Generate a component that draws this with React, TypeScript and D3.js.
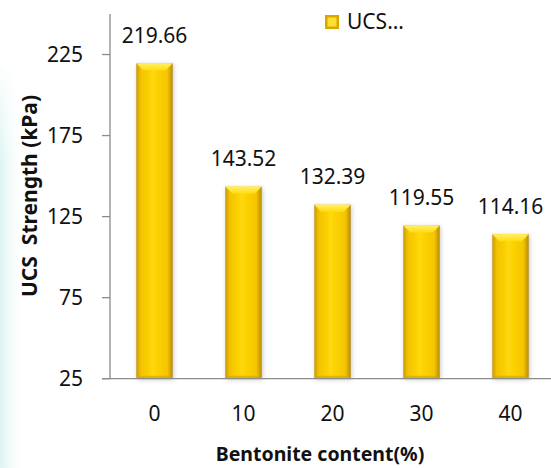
import React from "react";
import * as d3 from "d3";

const categories = ["0", "10", "20", "30", "40"];
const ucsValues = [219.66, 143.52, 132.39, 119.55, 114.16];
const yTicks = [25, 75, 125, 175, 225];
const legendLabel = "UCS…";
const xTitle = "Bentonite content(%)";
const yTitle = "UCS  Strength (kPa)";

const W = 551;
const H = 468;
const left = 110;
const right = 555;
const top = 14;
const bottom = 378.7;

export default function App() {
  const x = d3
    .scaleBand<string>()
    .domain(categories)
    .range([left, right])
    .paddingInner(0.59)
    .paddingOuter(0.295);
  const y = d3.scaleLinear().domain([25, 250]).range([bottom, top]);
  const bw = x.bandwidth();
  const font = "'Noto Sans', sans-serif";

  return (
    <svg
      width={W}
      height={H}
      style={{ position: "absolute", left: 0, top: 0, background: "#fff" }}
    >
      <defs>
        <linearGradient id="barGrad" x1="0" x2="1" y1="0" y2="0">
          <stop offset="0" stopColor="#C99A00" />
          <stop offset="0.12" stopColor="#F2C200" />
          <stop offset="0.45" stopColor="#FFD808" />
          <stop offset="0.85" stopColor="#F5C500" />
          <stop offset="1" stopColor="#B88C00" />
        </linearGradient>
        <linearGradient id="bevelGrad" x1="0" x2="0" y1="0" y2="1">
          <stop offset="0" stopColor="#FFF06A" />
          <stop offset="1" stopColor="#FFDD10" />
        </linearGradient>
        <linearGradient id="bgLeft" x1="0" x2="1" y1="0" y2="0">
          <stop offset="0" stopColor="#d8f3f1" stopOpacity="0.9" />
          <stop offset="1" stopColor="#ffffff" stopOpacity="0" />
        </linearGradient>
        <linearGradient id="bgFade" x1="0" x2="0" y1="0" y2="1">
          <stop offset="0" stopColor="#fff" stopOpacity="0" />
          <stop offset="0.25" stopColor="#fff" stopOpacity="1" />
          <stop offset="1" stopColor="#fff" stopOpacity="1" />
        </linearGradient>
        <mask id="fadeMask">
          <rect x={0} y={60} width={30} height={408} fill="url(#bgFade)" />
        </mask>
        <filter id="shadow" x="-30%" y="-10%" width="160%" height="120%">
          <feDropShadow dx="1" dy="1" stdDeviation="2" floodColor="#888" floodOpacity="0.45" />
        </filter>
      </defs>

      <rect x={0} y={60} width={26} height={408} fill="url(#bgLeft)" mask="url(#fadeMask)" />

      {/* y axis */}
      <line x1={left} x2={left} y1={top} y2={bottom} stroke="#8c8c8c" strokeWidth={1.3} />
      {yTicks.map((t) => (
        <g key={t}>
          <line x1={left - 8} x2={left} y1={y(t)} y2={y(t)} stroke="#8c8c8c" strokeWidth={1.3} />
          <text
            x={left - 27}
            y={y(t)}
            dy="0.36em"
            textAnchor="end"
            fontFamily={font}
            fontSize={21}
            fill="#111"
          >
            {t}
          </text>
        </g>
      ))}

      {/* bars */}
      {categories.map((c, i) => {
        const bx = x(c)!;
        const by = y(ucsValues[i]);
        const bh = bottom - by;
        const bev = 7;
        return (
          <g key={c}>
            <rect x={bx} y={by} width={bw} height={bh} fill="url(#barGrad)" filter="url(#shadow)" />
            <path
              d={`M${bx},${by} L${bx + bw},${by} L${bx + bw - bev},${by + bev} L${bx + bev},${by + bev} Z`}
              fill="url(#bevelGrad)"
            />
            <path
              d={`M${bx},${bottom} L${bx + bw},${bottom} L${bx + bw - 3},${bottom - 3} L${bx + 3},${bottom - 3} Z`}
              fill="#D6A800"
              opacity={0.7}
            />
            <text
              x={bx + bw / 2}
              y={by - 20.4}
              textAnchor="middle"
              fontFamily={font}
              fontSize={21}
              fill="#111"
            >
              {ucsValues[i].toFixed(2)}
            </text>
          </g>
        );
      })}

      {/* x axis */}
      <line x1={left - 8} x2={W} y1={bottom} y2={bottom} stroke="#8c8c8c" strokeWidth={1.3} />
      {categories.map((c) => (
        <text
          key={c}
          x={x(c)! + bw / 2}
          y={420.5}
          textAnchor="middle"
          fontFamily={font}
          fontSize={21}
          fill="#111"
        >
          {c}
        </text>
      ))}

      {/* titles */}
      <text
        x={320}
        y={461}
        textAnchor="middle"
        fontFamily={font}
        fontWeight="bold"
        fontSize={19.5}
        fill="#111"
      >
        {xTitle}
      </text>
      <text
        transform={`translate(37,196) rotate(-90)`}
        textAnchor="middle"
        fontFamily={font}
        fontWeight="bold"
        fontSize={21}
        fill="#111"
        style={{ whiteSpace: "pre" }}
      >
        {yTitle}
      </text>

      {/* legend */}
      <rect x={325} y={15} width={14} height={14} fill="#D9A800" />
      <rect x={327.5} y={17.5} width={9} height={9} fill="#FFE030" />
      <text x={347} y={29} fontFamily={font} fontSize={21} fill="#111">
        {legendLabel}
      </text>
    </svg>
  );
}
